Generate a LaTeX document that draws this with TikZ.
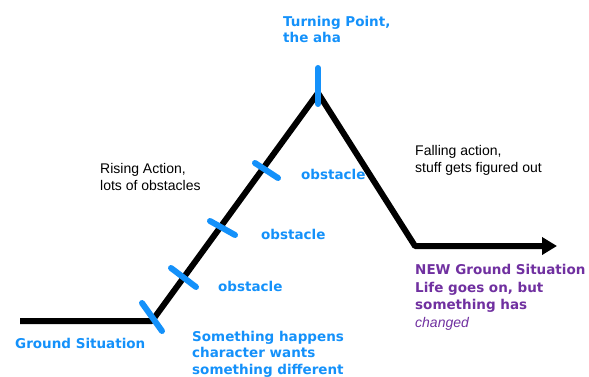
\documentclass[tikz,border=0pt]{standalone}
\usepackage{fontspec}
\setmainfont{Liberation Sans}
\newfontfamily\markfont{DejaVu Sans}
\usetikzlibrary{arrows.meta}
\definecolor{tickblue}{RGB}{20,145,250}
\definecolor{newpurple}{RGB}{112,48,160}
\begin{document}
\begin{tikzpicture}[x=1pt, y=-1pt,
  plotline/.style = {line width=6pt, line join=round},
  tickmark/.style = {draw=tickblue, line width=6pt, line cap=round},
  bluetext/.style = {anchor=base west, inner sep=0pt, align=left, text=tickblue,
    font=\markfont\bfseries\fontsize{13.5}{16.5}\selectfont},
  plaintext/.style = {anchor=base west, inner sep=0pt, align=left,
    font=\fontsize{14}{17}\selectfont},
  purpletext/.style = {bluetext, text=newpurple,
    font=\markfont\bfseries\fontsize{13.5}{17.5}\selectfont}]
  \useasboundingbox (0,0) rectangle (589,377);
  % the plot line
  \coordinate (start) at (20,321);
  \coordinate (base) at (152,321);
  \coordinate (peak) at (318,93);
  \coordinate (fall) at (415,246);
  \coordinate (tip) at (557,246);
  \draw[plotline, -{Triangle[length=15pt, width=17pt]}]
    (start) -- (base) -- (peak) -- (fall) -- (tip);
  % tick marks
  \draw[tickmark] (142,303) -- (162,331);
  \draw[tickmark] (171,268) -- (196,287);
  \draw[tickmark] (210,221) -- (235,235);
  \draw[tickmark] (255,163) -- (278,178);
  \draw[tickmark] (318,68) -- (318,104);
  % labels (anchored at the baseline of the last line)
  \node[bluetext, font=\markfont\bfseries\fontsize{13.5}{16}\selectfont] (turn) at (283,43) {Turning Point,\\the aha};
  \node[plaintext] (rise) at (100,190) {Rising Action,\\lots of obstacles};
  \node[bluetext] (obs3) at (301,179) {obstacle};
  \node[bluetext] (obs2) at (261,239) {obstacle};
  \node[bluetext] (obs1) at (218,291) {obstacle};
  \node[plaintext] (falling) at (415,172) {Falling action,\\stuff gets figured out};
  \node[bluetext] (ground) at (15,348) {Ground Situation};
  \node[bluetext] (happens) at (192,374) {Something happens\\character wants\\something different};
  \node[purpletext] (newground) at (415,327) {NEW Ground Situation\\Life goes on, but\\something has\\{\normalfont\itshape\fontsize{14}{17.5}\selectfont changed}};
\end{tikzpicture}
\end{document}
